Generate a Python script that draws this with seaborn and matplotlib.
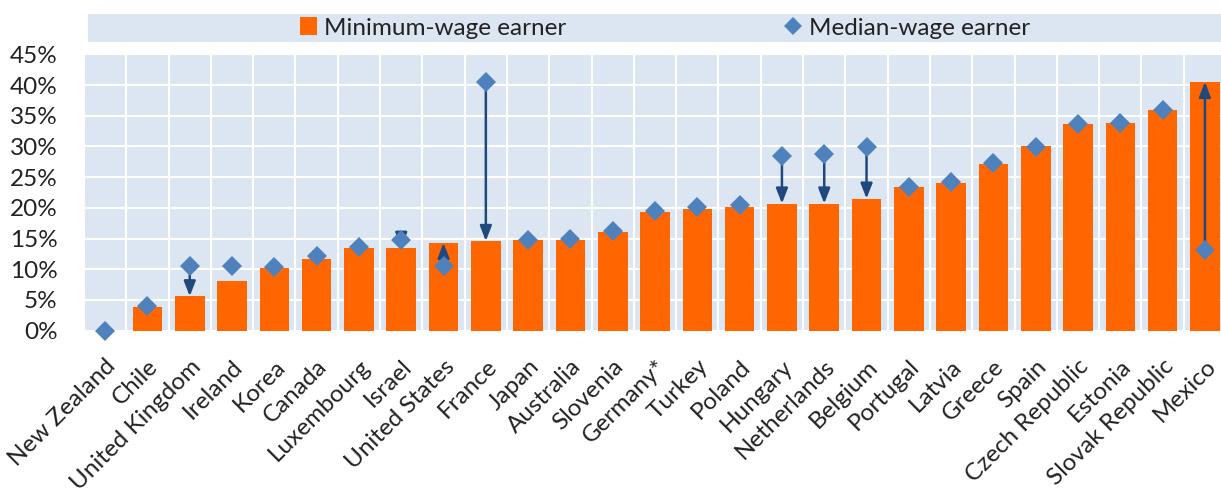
import numpy as np
import pandas as pd
import matplotlib.pyplot as plt
import seaborn as sns
from matplotlib.patches import Rectangle, Patch
from matplotlib.lines import Line2D
from matplotlib.ticker import PercentFormatter, MultipleLocator

# data (share of income, %)
countries = ['New Zealand', 'Chile', 'United Kingdom', 'Ireland', 'Korea', 'Canada',
             'Luxembourg', 'Israel', 'United States', 'France', 'Japan', 'Australia',
             'Slovenia', 'Germany*', 'Turkey', 'Poland', 'Hungary', 'Netherlands',
             'Belgium', 'Portugal', 'Latvia', 'Greece', 'Spain', 'Czech Republic',
             'Estonia', 'Slovak Republic', 'Mexico']
minimum_wage = [0.0, 3.8, 5.6, 8.1, 10.2, 11.7, 13.4, 13.5, 14.3, 14.6, 14.8, 14.8,
                16.1, 19.4, 19.8, 20.2, 20.7, 20.7, 21.5, 23.4, 24.0, 27.1, 30.0,
                33.6, 33.8, 35.9, 40.5]
median_wage = [0.0, 4.0, 10.5, 10.5, 10.4, 12.1, 13.6, 14.8, 10.6, 40.5, 14.8, 15.0,
               16.2, 19.5, 20.1, 20.5, 28.4, 28.8, 29.9, 23.4, 24.2, 27.3, 29.9,
               33.7, 33.8, 35.9, 13.2]
arrow_countries = ['United Kingdom', 'Israel', 'United States', 'France', 'Hungary',
                   'Netherlands', 'Belgium', 'Mexico']

df = pd.DataFrame({'country': countries, 'min': minimum_wage, 'med': median_wage})

orange = '#FF6600'
blue = '#4F81BD'
dark = '#1F497D'
bg = '#DCE6F2'

plt.rcParams['font.family'] = ['Lato', 'DejaVu Sans']

fig = plt.figure(figsize=(12.21, 4.94), dpi=100)
ax = fig.add_axes([84 / 1221, 163.3 / 494, (1221 - 84) / 1221, 276.4 / 494])
ax.set_facecolor(bg)

sns.barplot(data=df, x='country', y='min', color=orange, width=0.70,
            saturation=1, ax=ax, zorder=2)
sns.pointplot(data=df, x='country', y='med', color=blue, linestyle='none',
              marker='D', markersize=10.5, errorbar=None, ax=ax, zorder=5)
for ln in ax.lines:
    ln.set_clip_on(False)
    ln.set_zorder(5)
    ln.set_markeredgewidth(0)

# arrows from median-wage point to minimum-wage bar
for i, c in enumerate(countries):
    if c in arrow_countries:
        ax.annotate('', xy=(i, minimum_wage[i]), xytext=(i, median_wage[i]),
                    arrowprops=dict(arrowstyle='-|>,head_length=0.9,head_width=0.35',
                                    color=dark, lw=1.8, shrinkA=0, shrinkB=0),
                    zorder=4)

ax.set_xlim(-0.5, 26.38)
ax.set_ylim(0, 45)
ax.yaxis.set_major_locator(MultipleLocator(5))
ax.yaxis.set_major_formatter(PercentFormatter(decimals=0))
ax.xaxis.set_minor_locator(MultipleLocator(1, offset=0.5))
ax.grid(axis='y', which='major', color='white', lw=1.5, zorder=1)
ax.grid(axis='x', which='minor', color='white', lw=1.5, zorder=1)
ax.set_axisbelow(True)
ax.set_xlabel('')
ax.set_ylabel('')
for s in ax.spines.values():
    s.set_visible(False)
ax.tick_params(axis='both', which='both', length=0)
ax.tick_params(axis='y', labelsize=17.5, pad=19, labelcolor='#222222')
ax.tick_params(axis='x', labelsize=17.5, pad=18, labelcolor='#222222')
plt.setp(ax.get_xticklabels(), rotation=45, ha='right', rotation_mode='anchor')

# legend band
fig.patches.append(Rectangle((88 / 1221, 1 - 41.7 / 494), 1 - 88 / 1221, 27.7 / 494,
                             transform=fig.transFigure, facecolor=bg, edgecolor='none'))
handles = [Patch(facecolor=orange, edgecolor='none', label='Minimum-wage earner'),
           Line2D([], [], marker='D', color=blue, linestyle='none', markersize=9,
                  markeredgewidth=0, label='Median-wage earner')]
fig.legend(handles=handles, loc='center', bbox_to_anchor=(665 / 1221, 1 - 28 / 494),
           ncol=2, frameon=False, fontsize=17.5, columnspacing=9.0,
           handlelength=0.7, handleheight=0.7, handletextpad=0.3, labelcolor='#222222')

fig.savefig('out.png', dpi=100)
